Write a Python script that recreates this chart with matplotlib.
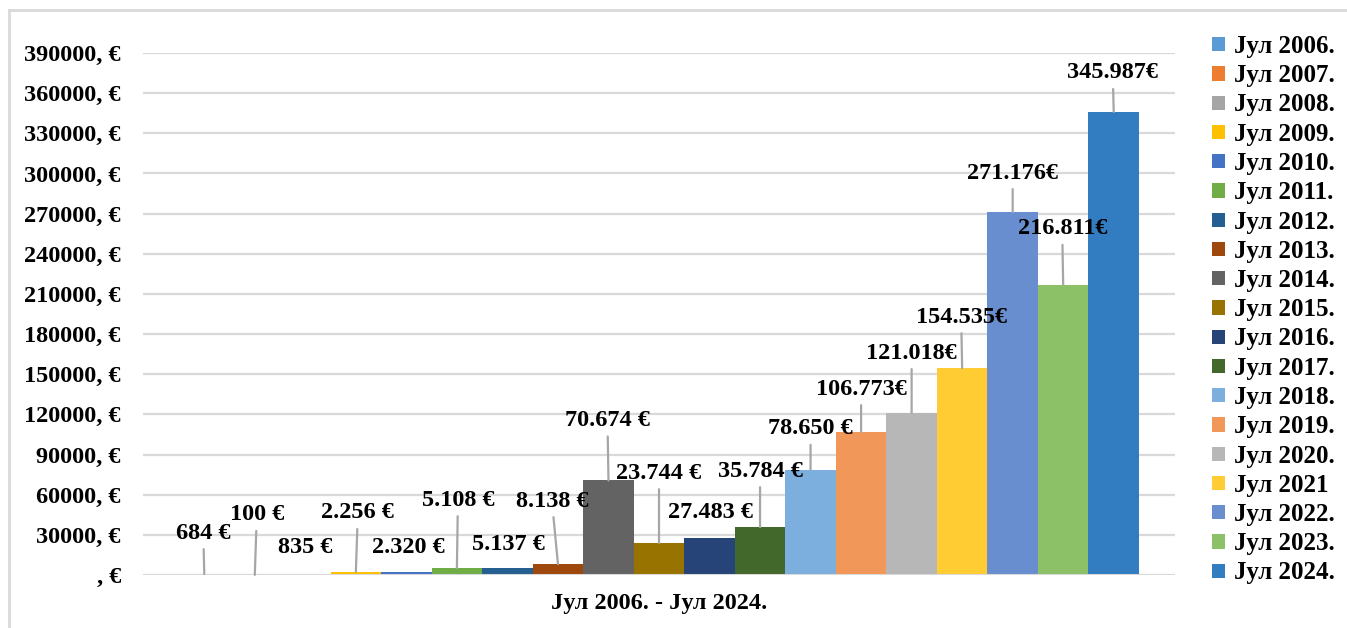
import numpy as np
import matplotlib
matplotlib.use('Agg')
import matplotlib.pyplot as plt
from matplotlib.ticker import FuncFormatter, MultipleLocator
from matplotlib.lines import Line2D

plt.rcParams['font.family'] = ['Liberation Serif', 'DejaVu Serif']
plt.rcParams['font.weight'] = 'bold'

# data
years = ['Јул 2006.', 'Јул 2007.', 'Јул 2008.', 'Јул 2009.', 'Јул 2010.', 'Јул 2011.',
         'Јул 2012.', 'Јул 2013.', 'Јул 2014.', 'Јул 2015.', 'Јул 2016.', 'Јул 2017.',
         'Јул 2018.', 'Јул 2019.', 'Јул 2020.', 'Јул 2021', 'Јул 2022.', 'Јул 2023.',
         'Јул 2024.']
values = [684, 100, 835, 2256, 2320, 5108, 5137, 8138, 70674, 23744, 27483, 35784,
          78650, 106773, 121018, 154535, 271176, 216811, 345987]
value_labels = ['684 €', '100 €', '835 €', '2.256 €', '2.320 €', '5.108 €', '5.137 €',
                '8.138 €', '70.674 €', '23.744 €', '27.483 €', '35.784 €', '78.650 €',
                '106.773€', '121.018€', '154.535€', '271.176€', '216.811€', '345.987€']
category = 'Јул 2006. - Јул 2024.'

colors = ['#5B9BD5', '#ED7D31', '#A5A5A5', '#FFC000', '#4472C4', '#70AD47', '#255E91',
          '#9E480E', '#636363', '#997300', '#264478', '#43682B', '#7CAFDD', '#F1975A',
          '#B7B7B7', '#FFCD33', '#698ED0', '#8CC168', '#327DC2']

# label offsets from bar top (pixels, x right / y up) and leader line flag
lab_dx = [-1, 2, 0, 2, 2, 1, 1, -6, -1, 0, 1, 0, 0, 0, 0, -1, 0, -1, -1]
lab_dy = [41, 60, 26, 59, 24, 68, 24, 63, 60, 70, 26, 56, 41, 43, 60, 51, 39, 56, 39]
leader = [1, 1, 0, 1, 0, 1, 0, 1, 1, 1, 0, 1, 1, 1, 1, 1, 1, 1, 1]

W, H = 1347, 628
fig = plt.figure(figsize=(W/100, H/100), dpi=100)
ax = fig.add_axes([143/W, 53/H, (1175-143)/W, (575-53)/H])

x = np.arange(len(values))
bars = []
for i in range(len(values)):
    b = ax.bar(x[i], values[i], width=1.0, color=colors[i], label=years[i], zorder=3)
    bars.append(b)

for i in range(len(values)):
    kw = {}
    if leader[i]:
        kw['arrowprops'] = dict(arrowstyle='-', color='#a6a6a6', lw=1.6,
                                shrinkA=2, shrinkB=0)
    ax.annotate(value_labels[i], xy=(x[i], values[i]),
                xytext=(lab_dx[i], lab_dy[i]), textcoords='offset pixels',
                ha='center', va='center', fontsize=17.5, fontweight='bold',
                annotation_clip=False, zorder=5, **kw)

ax.set_xlim(-0.5 - 0.713, 18.5 + 0.713)
ax.set_ylim(0, 390000)
ax.yaxis.set_major_locator(MultipleLocator(30000))
ax.yaxis.set_major_formatter(FuncFormatter(lambda v, p: f'{int(v)}, €' if v else ', €'))
ax.set_xticks([9])
ax.set_xticklabels([category])
ax.tick_params(axis='both', length=0, labelsize=17.5)
ax.tick_params(axis='y', pad=16)
ax.tick_params(axis='x', pad=13)
for s in ax.spines.values():
    s.set_visible(False)
ax.grid(axis='y', color='#d9d9d9', lw=1.6, zorder=0)
ax.set_axisbelow(True)
# horizontal axis line drawn over the bars
ax.axhline(0, color='#d9d9d9', lw=2.2, zorder=4)

fig.legend(handles=[b[0] for b in bars], labels=years, loc='upper left',
           bbox_to_anchor=(1212/W, 1 - 35/H), frameon=False, fontsize=18,
           handlelength=0.5, handleheight=0.5, handletextpad=0.4,
           labelspacing=0.25, borderpad=0, borderaxespad=0)

# outer chart frame (left and top edges visible)
fig.add_artist(Line2D([9/W, 9/W], [0, 1 - 10/H], color='#d9d9d9', lw=2))
fig.add_artist(Line2D([9/W, 1], [1 - 10/H, 1 - 10/H], color='#d9d9d9', lw=2))

fig.savefig('out.png', dpi=100)
